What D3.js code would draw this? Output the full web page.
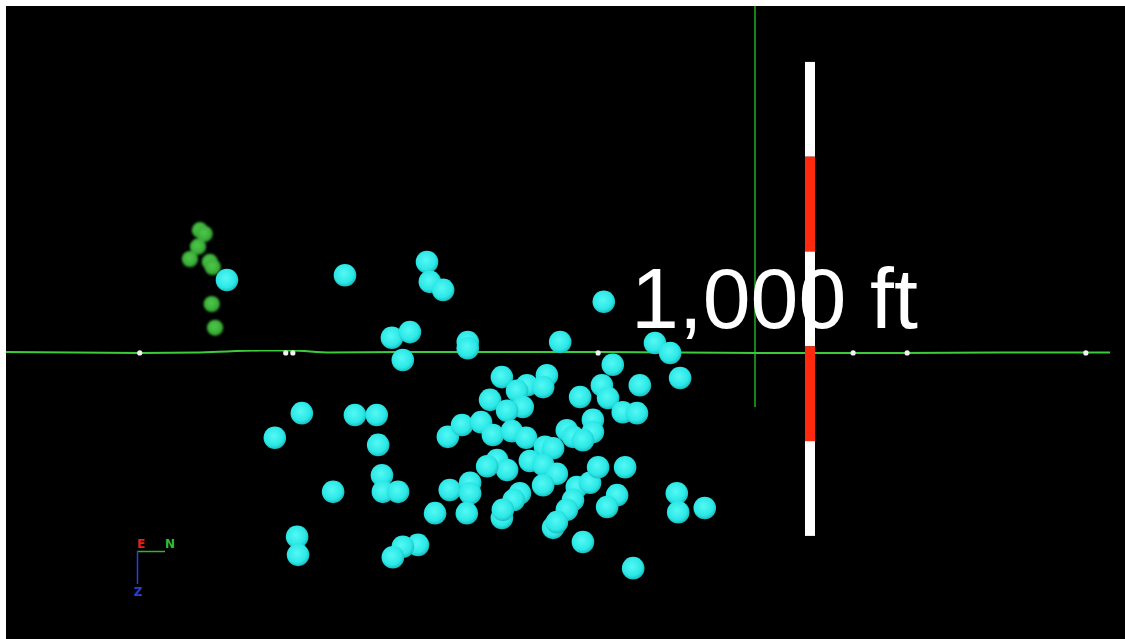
<!DOCTYPE html>
<html>
<head>
<meta charset="utf-8">
<script src="https://cdn.jsdelivr.net/npm/d3@7"></script>
<style>
  html, body { margin: 0; padding: 0; background: #ffffff; }
  svg { display: block; }
</style>
</head>
<body>
<svg id="view" width="1125" height="639"></svg>
<script>
// Microseismic events in a side view (easting vs depth, ft, relative to the lateral heel)
const eventEast = [
  -1114, -865, -692, -686, -658, -319, -766, -728, -743, -606, -606, -411, -211, -179, -300,
  -158, -243, -534, -481, -439, -447, -502, -559, -490, -523, -369, -323, -310, -279, -249,
  -956, -844, -798, -1013, -795, -648, -618, -578, -553, -513, -483, -443, -426, -397, -384,
  -342, -342, -363, -544, -523, -475, -447, -418, -376, -348, -331, -274, -644, -601, -601,
  -496, -509, -447, -384, -397, -291, -312, -675, -608, -534, -532, -426, -418, -363, -257,
  -165, -162, -106, -787, -785, -753, -890, -966, -964, -711, -743, -764, -565
];
const eventDepth = [
  -152, -162, -190, -148, -131, -106, -30, -42, 17, -21, -8, -21, -19, 2, 27,
  55, 70, 53, 70, 49, 74, 82, 101, 116, 124, 95, 70, 97, 127, 129,
  129, 133, 133, 181, 196, 179, 154, 148, 175, 167, 181, 200, 203, 165, 179,
  143, 169, 186, 228, 249, 230, 238, 257, 285, 276, 243, 243, 291, 276, 298,
  298, 312, 281, 312, 333, 302, 327, 340, 340, 350, 333, 371, 359, 401, 456,
  298, 338, 329, 260, 295, 295, 295, 390, 428, 407, 411, 433, 241
];

// Earlier stage events near the toe
const stageEast = [-1171, -1161, -1175, -1192, -1150, -1144, -1146, -1139];
const stageDepth = [-257, -249, -222, -196, -190, -179, -101, -51];

// Lateral well path and perforation stage markers
const wellEast = [-1580, -1298, -1170, -1044, -980, -896, -749, -327, 11, 306, 517, 749];
const wellDepth = [0, 2, 1, -3, -3, 1, 0, 0, 2, 2, 1, 1];
const perfEast = [-1298, -990, -975, -331, 207, 321, 698];
const perfDepth = [2, 2, 2, 2, 2, 2, 2];

// Vertical section of the well
const verticalEast = 0;
const verticalDepth = [-820, 116];

// Scale bar: five 200 ft segments
const scaleEast = 116;
const scaleTop = -612;
const scaleSegments = [200, 200, 200, 200, 200];
const scaleLabel = "1,000 ft";

const W = 1125, H = 639;
const svg = d3.select("#view");

// Horizontal and vertical scales share the same ft-to-pixel ratio
const pxPerFt = 0.474;
const x = d3.scaleLinear().domain([0, 1000]).range([755, 755 + 1000 * pxPerFt]);
const y = d3.scaleLinear().domain([0, 1000]).range([352, 352 + 1000 * pxPerFt]);

const defs = svg.append("defs");
const cyanGrad = defs.append("radialGradient").attr("id", "cyanBall")
  .attr("cx", "45%").attr("cy", "42%").attr("r", "60%");
cyanGrad.append("stop").attr("offset", "0%").attr("stop-color", "#55f8f4");
cyanGrad.append("stop").attr("offset", "70%").attr("stop-color", "#2ae8e6");
cyanGrad.append("stop").attr("offset", "100%").attr("stop-color", "#1cb6b8");

const greenGrad = defs.append("radialGradient").attr("id", "greenBall")
  .attr("cx", "45%").attr("cy", "42%").attr("r", "60%");
greenGrad.append("stop").attr("offset", "0%").attr("stop-color", "#50c84c");
greenGrad.append("stop").attr("offset", "70%").attr("stop-color", "#39ad37");
greenGrad.append("stop").attr("offset", "100%").attr("stop-color", "#257d26");

const soft = defs.append("filter").attr("id", "soft")
  .attr("x", "-20%").attr("y", "-20%").attr("width", "140%").attr("height", "140%");
soft.append("feGaussianBlur").attr("stdDeviation", 0.6);

const softer = defs.append("filter").attr("id", "softer")
  .attr("x", "-30%").attr("y", "-30%").attr("width", "160%").attr("height", "160%");
softer.append("feGaussianBlur").attr("stdDeviation", 0.8);

// Viewport background
svg.append("rect").attr("x", 6).attr("y", 6).attr("width", W - 6).attr("height", H - 6)
  .attr("fill", "#000000");

const plot = svg.append("g");

// Vertical well section
plot.append("line")
  .attr("x1", x(verticalEast)).attr("x2", x(verticalEast))
  .attr("y1", Math.max(6, y(verticalDepth[0]))).attr("y2", y(verticalDepth[1]))
  .attr("stroke", "#1fa31f").attr("stroke-width", 1.6);

// Lateral well path
const wellPts = wellEast.map((e, i) => [e, wellDepth[i]]);
plot.append("path")
  .datum(wellPts)
  .attr("d", d3.line().x(d => x(d[0])).y(d => y(d[1])).curve(d3.curveMonotoneX))
  .attr("fill", "none").attr("stroke", "#3bcc3b").attr("stroke-width", 2)
  .attr("filter", "url(#soft)");

plot.append("g").selectAll("circle")
  .data(perfEast.map((e, i) => [e, perfDepth[i]]))
  .join("circle")
  .attr("cx", d => x(d[0])).attr("cy", d => y(d[1])).attr("r", 2.6)
  .attr("fill", "#f2f2f2");

// Toe-stage events
plot.append("g").attr("filter", "url(#softer)").selectAll("circle")
  .data(stageEast.map((e, i) => [e, stageDepth[i]]))
  .join("circle")
  .attr("cx", d => x(d[0])).attr("cy", d => y(d[1])).attr("r", 8.2)
  .attr("fill", "url(#greenBall)");

// Current-stage events
plot.append("g").attr("filter", "url(#soft)").selectAll("circle")
  .data(eventEast.map((e, i) => [e, eventDepth[i]]))
  .join("circle")
  .attr("cx", d => x(d[0])).attr("cy", d => y(d[1])).attr("r", 11.3)
  .attr("fill", "url(#cyanBall)");

// Scale bar
let acc = scaleTop;
const segs = scaleSegments.map((len, i) => {
  const s = { top: acc, bottom: acc + len, color: i % 2 === 0 ? "#ffffff" : "#ff2a0a" };
  acc += len;
  return s;
});
const bar = plot.append("g").attr("filter", "url(#soft)");
bar.selectAll("rect").data(segs).join("rect")
  .attr("x", x(scaleEast) - 5).attr("width", 10)
  .attr("y", d => y(d.top)).attr("height", d => y(d.bottom) - y(d.top))
  .attr("fill", d => d.color);

// Scale label
plot.append("text")
  .attr("x", 631).attr("y", 328)
  .attr("font-family", "Liberation Sans, Arial, sans-serif")
  .attr("font-size", 86)
  .attr("fill", "#ffffff")
  .text(scaleLabel);

// Orientation triad
const triad = svg.append("g").attr("font-family", "DejaVu Sans, sans-serif")
  .attr("font-size", 12).attr("font-weight", "bold");
triad.append("line").attr("x1", 137).attr("x2", 165).attr("y1", 551.5).attr("y2", 551.5)
  .attr("stroke", "#2fb52f").attr("stroke-width", 1.5);
triad.append("line").attr("x1", 137.5).attr("x2", 137.5).attr("y1", 551).attr("y2", 584)
  .attr("stroke", "#2a3fd6").attr("stroke-width", 1.5);
triad.append("text").attr("x", 141).attr("y", 548).attr("text-anchor", "middle")
  .attr("fill", "#e0241a").text("E");
triad.append("text").attr("x", 170).attr("y", 548).attr("text-anchor", "middle")
  .attr("fill", "#2fc02f").text("N");
triad.append("text").attr("x", 138).attr("y", 596).attr("text-anchor", "middle")
  .attr("fill", "#2a3fd6").text("Z");
</script>
</body>
</html>
